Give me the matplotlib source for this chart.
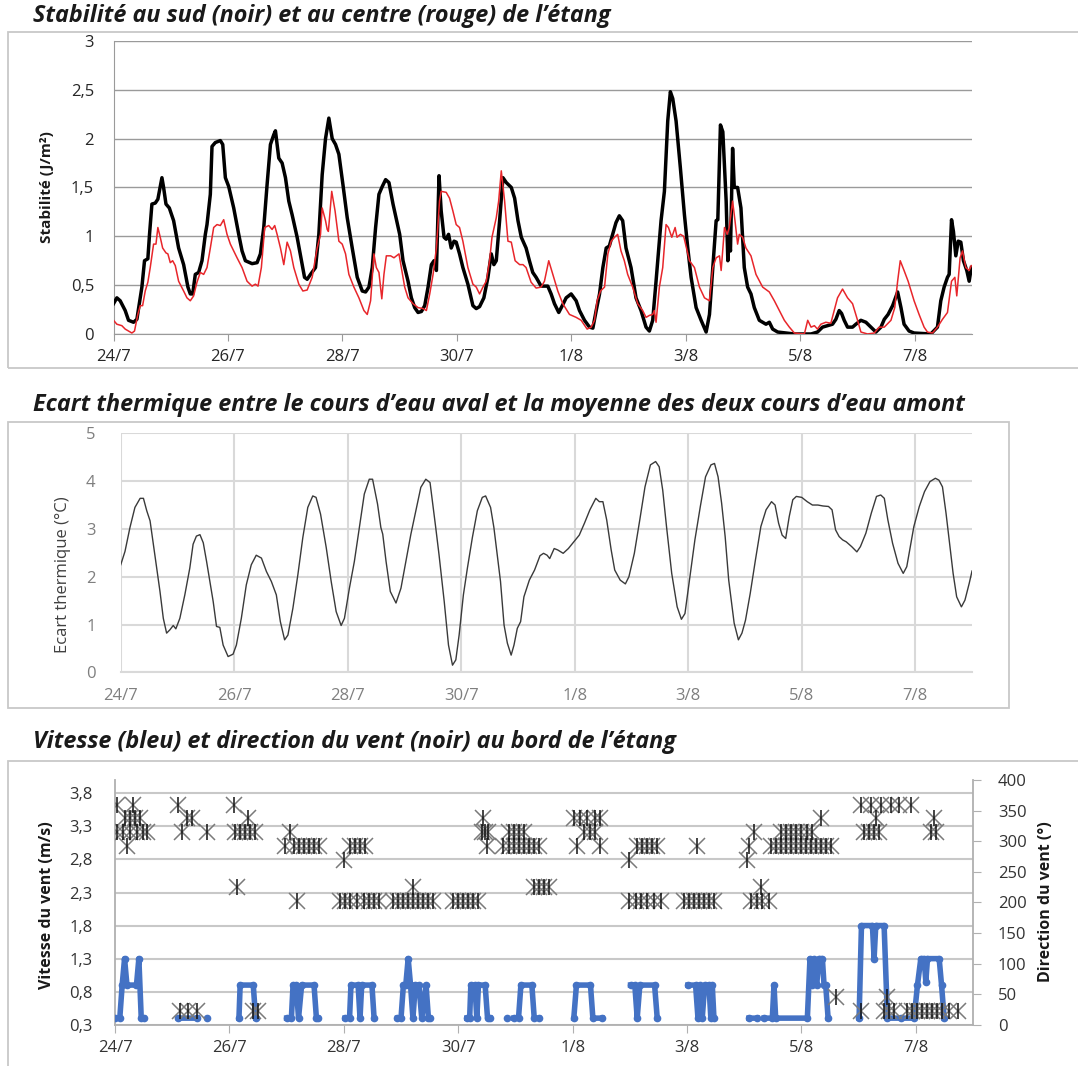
import numpy as np
import matplotlib.pyplot as plt
from matplotlib.patches import Rectangle

nan = np.nan

# x axis: hours since 24/7 00:00
tick_hours = [0, 48, 96, 144, 192, 240, 288, 336]
tick_labels = ["24/7", "26/7", "28/7", "30/7", "1/8", "3/8", "5/8", "7/8"]

# --- panel 1 : stability, south (black) and centre (red) ---
south_h = [0, 1.4, 2.8, 4.9, 6.3, 8.4, 9.8, 11.2, 11.9, 13.0, 14.4, 15.1, 16.1, 17.5, 18.6, 20.3,
           21.0, 22.0, 23.4, 25.2, 27.3, 29.4, 31.2, 32.2, 33.2, 34.3, 35.7, 37.1, 38.5, 39.2,
           40.6, 41.3, 42.7, 44.8, 45.8, 46.9, 48.3, 50.4, 52.5, 53.9, 55.3, 58.1, 60.2, 61.6,
           63.0, 64.4, 65.8, 67.2, 67.9, 69.3, 70.7, 72.1, 73.5, 74.9, 77.0, 79.1, 80.1, 81.2,
           82.6, 84.7, 86.1, 87.5, 88.9, 90.3, 91.7, 93.1, 94.5, 96.2, 98.0, 100.1, 102.2, 104.3,
           105.7, 107.1, 108.5, 109.9, 111.3, 112.7, 114.1, 115.5, 117.2, 120.0, 121.4, 123.5,
           124.9, 126.3, 127.7, 129.1, 130.5, 131.9, 133.3, 134.4, 135.4, 136.5, 137.4, 138.6,
           139.5, 140.5, 141.6, 142.8, 143.7, 145.1, 146.5, 148.6, 150.7, 152.1, 153.5, 155.3,
           157.0, 158.4, 159.5, 160.5, 161.9, 163.3, 164.7, 166.8, 168.2, 169.6, 171.0, 173.0,
           174.4, 175.8, 177.2, 179.3, 182.1, 183.5, 184.9, 186.7, 188.4, 189.8, 191.9, 194.0,
           195.4, 197.5, 199.6, 201.0, 202.4, 203.8, 205.2, 206.6, 207.9, 209.3, 210.7, 212.1,
           213.5, 214.9, 217.0, 219.1, 221.2, 223.3, 224.7, 226.1, 227.5, 229.6, 231.0, 232.4,
           233.5, 234.5, 235.9, 237.7, 239.4, 240.8, 242.2, 244.3, 246.4, 248.5, 249.9, 251.3,
           252.7, 253.4, 254.5, 255.5, 256.9, 257.6, 258.2, 258.7, 259.6, 260.3, 261.7, 263.1,
           264.5, 265.9, 267.3, 268.7, 270.8, 273.6, 275.0, 276.4, 278.5, 285.5, 292.5, 295.2,
           297.3, 299.4, 301.5, 302.9, 304.3, 305.3, 306.4, 307.8, 309.9, 311.3, 313.4, 315.5,
           317.6, 319.7, 321.8, 323.2, 324.8, 326.7, 328.8, 330.2, 331.5, 333.6, 335.7, 342.7,
           345.5, 346.9, 348.3, 349.7, 350.4, 351.4, 352.2, 353.2, 354.2, 355.3, 356.4, 357.8,
           358.8, 359.7]
south_v = [0.31, 0.37, 0.34, 0.24, 0.14, 0.12, 0.15, 0.37, 0.48, 0.75, 0.77, 1.02, 1.33, 1.34, 1.38, 1.60,
           1.50, 1.33, 1.29, 1.16, 0.88, 0.71, 0.48, 0.41, 0.41, 0.61, 0.63, 0.75, 1.02, 1.12,
           1.43, 1.92, 1.96, 1.98, 1.94, 1.60, 1.51, 1.29, 1.02, 0.85, 0.75, 0.72, 0.73, 0.82,
           1.09, 1.53, 1.94, 2.04, 2.08, 1.80, 1.75, 1.60, 1.36, 1.22, 0.99, 0.71, 0.58, 0.56,
           0.61, 0.68, 1.02, 1.63, 2.00, 2.21, 2.00, 1.94, 1.84, 1.53, 1.19, 0.88, 0.58, 0.44,
           0.43, 0.48, 0.68, 1.09, 1.43, 1.51, 1.58, 1.55, 1.33, 1.02, 0.75, 0.54,
           0.37, 0.27, 0.22, 0.23, 0.29, 0.48, 0.71, 0.75, 0.65, 1.62, 1.26, 0.99,
           0.97, 1.02, 0.88, 0.95, 0.94, 0.82, 0.68, 0.51, 0.29, 0.26, 0.28, 0.37,
           0.58, 0.82, 0.71, 0.75, 1.16, 1.60, 1.55, 1.50, 1.39, 1.16, 0.99, 0.88,
           0.75, 0.63, 0.58, 0.49, 0.49, 0.41, 0.31, 0.22, 0.30, 0.37, 0.41, 0.34,
           0.24, 0.14, 0.07, 0.06, 0.24, 0.41, 0.68, 0.88, 0.90, 1.02, 1.14, 1.21,
           1.16, 0.88, 0.68, 0.37, 0.24, 0.07, 0.03, 0.14, 0.54, 1.16, 1.46, 2.18,
           2.48, 2.41, 2.18, 1.70, 1.22, 0.88, 0.58, 0.27, 0.14, 0.02, 0.20, 0.68,
           1.16, 1.17, 2.14, 2.07, 1.36, 0.75, 0.99, 0.85, 1.90, 1.50, 1.50, 1.29,
           0.68, 0.48, 0.41, 0.27, 0.14, 0.10, 0.12, 0.05, 0.02, 0.0, 0.0, 0.02,
           0.07, 0.085, 0.10, 0.15, 0.24, 0.21, 0.14, 0.07, 0.07, 0.10, 0.14, 0.12,
           0.07, 0.02, 0.07, 0.15, 0.20, 0.29, 0.43, 0.27, 0.10, 0.03, 0.01, 0.0,
           0.07, 0.34, 0.48, 0.58, 0.61, 1.17, 1.05, 0.80, 0.95, 0.94, 0.75, 0.65,
           0.54, 0.68]

centre_h = [0, 1.4, 3.5, 4.9, 7.7, 8.8, 10.2, 11.2, 12.2, 13.3, 14.4, 15.4, 16.8, 17.8, 18.6, 19.6,
            20.6, 22.0, 22.8, 23.8, 24.8, 25.9, 27.3, 29.4, 30.8, 32.2, 33.6, 35.0, 36.4, 37.8,
            39.2, 40.6, 42.0, 43.4, 44.8, 46.2, 47.6, 49.0, 50.4, 51.8, 53.9, 56.0, 58.1, 59.5,
            60.6, 62.0, 63.4, 65.1, 66.5, 67.6, 68.6, 70.0, 71.4, 72.8, 74.2, 75.6, 77.7, 79.4,
            81.2, 83.3, 85.4, 86.8, 87.5, 88.9, 89.6, 90.1, 91.5, 92.9, 94.5, 95.9, 97.3, 98.7,
            100.8, 102.9, 105.0, 106.4, 107.8, 109.2, 110.2, 111.3, 112.5, 113.4, 114.4, 116.2,
            117.6, 119.7, 122.1, 123.5, 125.6, 127.7, 129.8, 131.2, 132.6, 134.0, 135.4, 136.7,
            137.4, 139.5, 140.9, 142.3, 143.7, 145.1, 146.5, 148.6, 150.7, 152.1, 153.5, 154.9,
            156.3, 157.7, 158.7, 160.5, 161.5, 162.6, 164.0, 165.4, 166.8, 168.4, 170.3, 171.7,
            173.0, 175.1, 177.2, 179.3, 180.7, 182.5, 184.2, 186.3, 188.4, 191.2, 194.0, 196.1,
            198.6, 200.3, 201.7, 202.8, 204.2, 205.9, 207.3, 208.7, 210.1, 211.4, 212.8, 214.2,
            215.6, 217.7, 219.8, 221.9, 223.3, 224.7, 226.1, 226.8, 227.5, 228.9, 230.3, 231.7,
            232.7, 234.1, 235.5, 236.3, 237.7, 239.1, 241.5, 243.6, 245.7, 247.8, 249.9, 251.3,
            252.7, 254.1, 254.8, 256.2, 257.3, 258.2, 259.6, 260.6, 261.7, 262.4, 263.8, 265.2,
            267.3, 269.4, 272.2, 275.0, 277.1, 279.2, 281.3, 283.4, 285.5, 289.7, 291.1, 292.5,
            293.9, 295.2, 296.6, 298.7, 300.8, 303.6, 305.7, 307.8, 309.9, 312.0, 313.4, 316.2,
            319.0, 321.1, 323.2, 326.0, 327.6, 328.8, 329.9, 331.5, 333.2, 335.7, 337.8, 339.9,
            341.3, 343.4, 345.5, 347.6, 349.7, 351.4, 352.8, 353.6, 355.0, 356.0, 357.4, 358.8,
            359.7]
centre_v = [0.14, 0.10, 0.085, 0.05, 0.01, 0.03, 0.20, 0.29, 0.29, 0.44, 0.53, 0.68, 0.92, 0.92, 1.09, 0.99,
            0.88, 0.83, 0.82, 0.73, 0.75, 0.70, 0.54, 0.44, 0.37, 0.34, 0.39, 0.53, 0.63, 0.61,
            0.68, 0.88, 1.09, 1.12, 1.11, 1.17, 1.02, 0.92, 0.85, 0.78, 0.68, 0.54, 0.49, 0.51,
            0.49, 0.68, 1.09, 1.11, 1.07, 1.11, 1.02, 0.88, 0.71, 0.94, 0.85, 0.68, 0.51, 0.44,
            0.45, 0.58, 0.88, 1.02, 1.29, 1.16, 1.07, 1.05, 1.46, 1.26, 0.95, 0.92, 0.82, 0.61,
            0.48, 0.37, 0.24, 0.20, 0.34, 0.82, 0.68, 0.63, 0.36, 0.61, 0.80, 0.80,
            0.78, 0.82, 0.48, 0.37, 0.31, 0.27, 0.26, 0.24, 0.41, 0.61, 0.88, 1.36,
            1.46, 1.45, 1.39, 1.26, 1.12, 1.09, 0.95, 0.68, 0.51, 0.48, 0.41, 0.48,
            0.54, 0.75, 0.99, 1.19, 1.36, 1.67, 1.36, 0.95, 0.94, 0.75, 0.71, 0.71,
            0.68, 0.53, 0.47, 0.48, 0.54, 0.75, 0.61, 0.44, 0.31, 0.20, 0.17, 0.14,
            0.05, 0.07, 0.14, 0.34, 0.44, 0.48, 0.82, 0.95, 0.99, 1.02, 0.85, 0.75,
            0.61, 0.48, 0.31, 0.24, 0.17, 0.19, 0.20, 0.24, 0.12, 0.48, 0.68, 1.12,
            1.09, 0.99, 1.09, 0.99, 1.02, 1.00, 0.75, 0.68, 0.48, 0.37, 0.34, 0.68,
            0.78, 0.80, 0.65, 1.09, 1.02, 1.09, 1.36, 1.16, 0.92, 1.02, 0.99, 0.88,
            0.80, 0.61, 0.48, 0.43, 0.34, 0.24, 0.14, 0.07, 0.01, 0.0, 0.14, 0.07,
            0.085, 0.05, 0.10, 0.12, 0.11, 0.37, 0.46, 0.37, 0.31, 0.14, 0.02, 0.0,
            0.01, 0.07, 0.07, 0.14, 0.27, 0.54, 0.75, 0.65, 0.54, 0.34, 0.20, 0.07,
            0.02, 0.01, 0.07, 0.15, 0.22, 0.54, 0.58, 0.39, 0.78, 0.85, 0.68, 0.65,
            0.70]

# --- panel 2 : thermal difference downstream - upstream mean ---
ecart_h = [0, 1.8, 3.9, 6.0, 8.2, 9.6, 11.0, 12.4, 13.8, 15.2, 16.6, 18.0, 19.4, 20.8, 22.2, 23.3,
           25.0, 27.1, 29.2, 30.6, 32.0, 33.5, 34.9, 36.3, 37.7, 39.1, 40.5, 41.9, 43.3, 45.4,
           47.5, 48.9, 51.0, 53.1, 55.2, 57.3, 59.5, 61.6, 63.7, 65.8, 67.5, 69.3, 70.7, 72.8,
           74.9, 77.0, 79.1, 81.2, 82.6, 84.5, 86.9, 89.0, 91.1, 93.2, 94.6, 96.7, 98.8, 100.9,
           103.0, 105.1, 106.5, 108.6, 110.0, 110.8, 112.2, 114.0, 116.4, 118.5, 120.6, 122.7,
           124.8, 126.9, 129.0, 130.8, 133.2, 134.6, 136.8, 138.6, 140.3, 141.7, 143.1, 144.9,
           146.6, 148.7, 150.8, 152.9, 154.3, 156.4, 157.8, 159.2, 160.6, 162.1, 163.5, 165.1,
           166.3, 167.7, 169.1, 170.5, 172.8, 175.0, 177.3, 178.8, 180.3, 181.4, 183.3, 184.8,
           187.1, 189.3, 191.6, 193.9, 196.1, 198.4, 200.9, 202.4, 203.9, 205.5, 207.4, 208.9,
           211.2, 213.4, 214.9, 217.2, 219.5, 221.7, 224.0, 226.2, 227.7, 229.2, 230.8, 233.0,
           235.3, 237.1, 238.6, 240.5, 242.8, 245.1, 247.3, 249.6, 251.1, 252.6, 254.1, 255.6,
           257.1, 259.4, 261.2, 262.7, 264.2, 266.2, 268.4, 270.7, 272.9, 275.2, 276.7, 278.2,
           279.7, 281.2, 282.7, 284.2, 285.7, 288.0, 290.3, 292.5, 294.8, 297.0, 299.3, 300.8,
           302.3, 303.8, 305.3, 306.8, 309.1, 311.3, 312.8, 315.1, 317.4, 319.6, 321.4, 322.9,
           324.4, 326.4, 328.7, 330.9, 332.4, 333.9, 335.4, 337.7, 339.9, 342.2, 344.5, 346.0,
           347.5, 349.0, 350.5, 352.0, 353.5, 355.5, 357.0, 358.8, 360.0]
ecart_v = [2.25, 2.53, 3.03, 3.45, 3.64, 3.64, 3.38, 3.17, 2.68, 2.18, 1.69, 1.13, 0.82, 0.89, 0.98, 0.91,
           1.13, 1.62, 2.18, 2.68, 2.85, 2.88, 2.71, 2.32, 1.90, 1.48, 0.96, 0.94, 0.57, 0.33,
           0.38, 0.57, 1.13, 1.83, 2.25, 2.45, 2.39, 2.11, 1.90, 1.62, 1.06, 0.68, 0.78, 1.34,
           2.04, 2.82, 3.45, 3.69, 3.66, 3.31, 2.61, 1.90, 1.27, 0.98, 1.13, 1.76, 2.32, 3.03,
           3.73, 4.04, 4.04, 3.52, 3.03, 2.89, 2.32, 1.69, 1.45, 1.76, 2.32, 2.89,
           3.38, 3.87, 4.04, 3.97, 3.03, 2.46, 1.48, 0.57, 0.15, 0.26, 0.78, 1.62,
           2.18, 2.82, 3.38, 3.66, 3.69, 3.45, 3.03, 2.46, 1.90, 0.99, 0.61, 0.36,
           0.57, 0.92, 1.06, 1.58, 1.93, 2.14, 2.44, 2.49, 2.45, 2.38, 2.59, 2.56,
           2.49, 2.59, 2.73, 2.87, 3.12, 3.40, 3.64, 3.57, 3.57, 3.19, 2.56, 2.14,
           1.93, 1.85, 2.00, 2.49, 3.19, 3.88, 4.34, 4.41, 4.30, 3.81, 3.05, 2.07,
           1.37, 1.11, 1.23, 1.93, 2.77, 3.47, 4.09, 4.34, 4.37, 4.09, 3.54, 2.84,
           1.93, 1.03, 0.68, 0.82, 1.09, 1.65, 2.35, 3.05, 3.40, 3.57, 3.50, 3.12,
           2.87, 2.80, 3.26, 3.61, 3.68, 3.66, 3.57, 3.50, 3.50, 3.48, 3.47, 3.40,
           2.98, 2.84, 2.77, 2.73, 2.63, 2.52, 2.63, 2.91, 3.33, 3.68, 3.71, 3.64,
           3.19, 2.70, 2.28, 2.07, 2.21, 2.63, 3.05, 3.47, 3.78, 3.99, 4.06, 4.02,
           3.88, 3.33, 2.70, 2.07, 1.58, 1.37, 1.51, 1.86, 2.12]

# --- panel 3 : wind speed (blue, m/s) and direction (black, degrees) ---
wind_h = [0, 2, 3, 4, 5, 9, 10, 11, 12, nan,
          26.6, 34.5, nan, 38.5, nan,
          52, 52.5, 58, 59, nan,
          72, 74, 74.7, 76, 77, 78.3, 83.5, 84.5, 85, nan,
          96.5, 98.4, 99, 102, 102.8, 103.5, 107.8, 108.7, nan,
          118.5, 120, 121, 122, 123, 124, 125, 126, 127.5, 128.7, 130.5, 131.5, 132, nan,
          147.6, 148.8, 149.3, 151, 151.8, 152.5, 155.3, 156.3, 157.4, nan,
          164.5, nan,
          167.2, 169.3, 170.3, 174.9, 175.9, 177.8, nan,
          192.5, 193.6, 199.5, 200.5, 204.4, nan,
          216.3, 218.1, 219.1, 220.2, 226.4, 227.5, nan,
          240.4, 243.6, 244.6, 245.4, 246.4, 247.4, 249.2, 250.0, 250.6, 251.3, nan,
          266, 269.5, nan,
          272.3, 275.8, 276.5, 277.2, 290.5, 291.6, 292.6, 293.3, 294.4, 295.4, 296.8, 297.5,
          298.2, 299.2, nan,
          312.2, 313.2, 317.8, 318.5, 319.2, 322.7, 324.1, 329.7, 335.3, 336.7, 338.1, 339.5,
          340.2, 340.9, 345.8, 346.8, 347.9]
wind_v = [0.4, 0.4, 0.9, 1.3, 0.9, 0.9, 1.3, 0.4, 0.4, nan,
          0.4, 0.4, nan, 0.4, nan,
          0.4, 0.9, 0.9, 0.4, nan,
          0.4, 0.4, 0.9, 0.9, 0.4, 0.9, 0.9, 0.4, 0.4, nan,
          0.4, 0.4, 0.9, 0.9, 0.4, 0.9, 0.9, 0.4, nan,
          0.4, 0.4, 0.9, 0.9, 1.3, 0.9, 0.4, 0.9, 0.9, 0.4, 0.9, 0.4, 0.4, nan,
          0.4, 0.4, 0.9, 0.9, 0.4, 0.9, 0.9, 0.4, 0.4, nan,
          0.4, nan,
          0.4, 0.4, 0.9, 0.9, 0.4, 0.4, nan,
          0.4, 0.9, 0.9, 0.4, 0.4, nan,
          0.9, 0.9, 0.4, 0.9, 0.9, 0.4, nan,
          0.9, 0.9, 0.4, 0.9, 0.4, 0.9, 0.9, 0.4, 0.9, 0.4, nan,
          0.4, 0.4, nan,
          0.4, 0.4, 0.9, 0.4, 0.4, 1.3, 0.9, 1.3, 0.9, 1.3, 1.3, 0.9,
          0.9, 0.4, nan,
          0.4, 1.8, 1.8, 1.3, 1.8, 1.8, 0.4, 0.4, 0.4, 0.9, 1.3, 1.3,
          0.95, 1.3, 1.3, 0.9, 0.4]

dir_h = [0.7, 7.7, 26.6, 50.0, 312.9, 317.1, 321.3, 325.5, 329.0, 333.9,
         4.2, 6.3, 8.4, 10.5, 30.1, 32.2, 56.0, 154.5, 192.5, 195.3, 198.1, 201.6, 203.7, 296.1,
         319.2, 343.7,
         0.7, 3.5, 6.3, 9.1, 11.9, 13.3, 28.0, 38.5, 50.4, 52.5, 54.6, 56.7, 58.8, 73.5, 153.9,
         155.3, 156.7, 165.1, 167.2, 169.3, 171.4, 196.7, 199.5, 201.6, 268.1, 279.3, 281.4,
         283.5, 285.6, 287.7, 290.5, 292.6, 314.3, 316.4, 318.5, 320.6, 342.3, 344.4,
         4.9, 71.4, 74.9, 77.0, 79.1, 81.2, 83.3, 85.4, 98.7, 100.8, 102.9, 105.0, 156.0, 163.0,
         165.1, 167.2, 169.3, 171.4, 173.5, 175.6, 177.7, 193.9, 203.7, 219.1, 221.2, 223.3,
         225.4, 227.5, 244.3, 266.0, 275.1, 277.2, 279.3, 281.4, 283.5, 285.6, 287.7, 289.8,
         291.9, 294.0, 296.1, 298.2, 300.3,
         95.9, 215.6, 265.3,
         51.1, 125.2, 176.0, 178.0, 180.0, 182.0, 270.9,
         76.3, 94.5, 96.6, 98.7, 101.5, 104.3, 106.4, 108.5, 110.6, 116.8, 118.9, 121.0, 123.1,
         125.2, 127.3, 129.4, 131.5, 133.6, 142.0, 144.1, 146.2, 148.3, 150.4, 152.5, 215.6,
         218.4, 220.5, 223.3, 226.1, 228.9, 238.7, 240.8, 242.9, 245.0, 247.1, 249.2, 251.3,
         266.7, 269.5, 271.6, 274.4,
         302.4, 324.1,
         27.3, 30.8, 34.3, 58.1, 60.2, 312.9, 322.7, 324.8, 326.9, 332.5, 334.6, 336.7, 338.8,
         340.9, 343.0, 345.1, 347.2, 350.0, 353.5]
dir_v = ([360] * 10 + [337.5] * 16 + [315] * 38 + [292.5] * 43 + [270] * 3 + [225] * 7
         + [202.5] * 41 + [45] * 2 + [22.5] * 19)

# ---------------------------------------------------------------
plt.rcParams["font.family"] = ["Open Sans", "DejaVu Sans"]
fig = plt.figure(figsize=(10.78, 10.66), dpi=100)

# chart frames
for r in [(0.0074, 0.6548, 1.0, 0.3152), (0.0074, 0.3358, 0.9286, 0.2683), (0.0074, -0.01, 1.0, 0.2961)]:
    fig.patches.append(Rectangle(r[:2], r[2], r[3], transform=fig.transFigure,
                                 fill=False, edgecolor="#c8c8c8", linewidth=1.3))

title_kw = dict(fontsize=16.8, fontweight="bold", fontstyle="italic", color="#1a1a1a", va="center")
fig.text(0.031, 1 - 16 / 1066, "Stabilité au sud (noir) et au centre (rouge) de l’étang", **title_kw)
fig.text(0.031, 1 - 405 / 1066, "Ecart thermique entre le cours d’eau aval et la moyenne des deux cours d’eau amont", **title_kw)
fig.text(0.031, 1 - 742 / 1066, "Vitesse (bleu) et direction du vent (noir) au bord de l’étang", **title_kw)

tick_fs = 12

# panel 1
ax1 = fig.add_axes([0.1053, 0.6867, 0.7964, 0.2749])
ax1.plot(south_h, south_v, color="black", lw=2.5, solid_joinstyle="round", zorder=3)
ax1.plot(centre_h, centre_v, color="#e8262b", lw=1.1, zorder=4)
ax1.set_xlim(0, 360)
ax1.set_ylim(0, 3)
ax1.set_yticks([0, 0.5, 1, 1.5, 2, 2.5, 3])
ax1.set_yticklabels(["0", "0,5", "1", "1,5", "2", "2,5", "3"])
ax1.set_xticks(tick_hours)
ax1.set_xticklabels(tick_labels)
ax1.grid(axis="y", color="#9a9a9a", lw=1.0)
ax1.set_axisbelow(True)
for s in ["top", "right"]:
    ax1.spines[s].set_visible(False)
for s in ["left", "bottom"]:
    ax1.spines[s].set_color("#9a9a9a")
ax1.tick_params(axis="y", length=0, pad=14, labelsize=tick_fs, labelcolor="#262626")
ax1.tick_params(axis="x", length=5, color="#9a9a9a", pad=6, labelsize=tick_fs, labelcolor="#262626")
fig.text(47 / 1078, 1 - 187 / 1066, "Stabilité (J/m²)", rotation=90, ha="center", va="center",
         fontsize=11, fontweight="bold", color="#1a1a1a")

# panel 2
ax2 = fig.add_axes([0.1120, 0.3693, 0.7897, 0.2242])
ax2.plot(ecart_h, ecart_v, color="#3a3a3a", lw=1.0)
ax2.set_xlim(0, 360)
ax2.set_ylim(0, 5)
ax2.set_yticks([0, 1, 2, 3, 4, 5])
ax2.set_xticks(tick_hours)
ax2.set_xticklabels(tick_labels)
ax2.grid(True, color="#d9d9d9", lw=1.5)
ax2.set_axisbelow(True)
for s in ["top", "right", "left"]:
    ax2.spines[s].set_visible(False)
ax2.spines["bottom"].set_color("#d9d9d9")
ax2.spines["bottom"].set_linewidth(1.5)
ax2.tick_params(length=0, labelsize=tick_fs, labelcolor="#7f7f7f")
ax2.tick_params(axis="y", pad=18)
ax2.tick_params(axis="x", pad=11)
fig.text(63 / 1078, 1 - 575 / 1066, "Ecart thermique (°C)", rotation=90, ha="center", va="center",
         fontsize=12, color="#404040")

# panel 3
ax3 = fig.add_axes([0.1067, 0.0387, 0.7959, 0.2295])
ax3.plot(wind_h, wind_v, color="#4472c4", lw=4, marker="o", ms=4.5, solid_joinstyle="round", zorder=3)
ax3.set_xlim(0, 360)
ax3.set_ylim(0.3, 4.0)
ax3.set_yticks([0.3, 0.8, 1.3, 1.8, 2.3, 2.8, 3.3, 3.8])
ax3.set_yticklabels(["0,3", "0,8", "1,3", "1,8", "2,3", "2,8", "3,3", "3,8"])
ax3.set_xticks(tick_hours)
ax3.set_xticklabels(tick_labels)
ax3.grid(axis="y", color="#c8c8c8", lw=1.5)
ax3.set_axisbelow(True)
ax3.spines["top"].set_visible(False)
ax3.spines["right"].set_visible(False)
for s in ["left", "bottom"]:
    ax3.spines[s].set_color("#b0b0b0")
    ax3.spines[s].set_linewidth(1.3)
ax3.tick_params(axis="y", length=0, pad=16, labelsize=tick_fs, labelcolor="#333333")
ax3.tick_params(axis="x", length=6, color="#b0b0b0", pad=5, labelsize=tick_fs, labelcolor="#333333")

ax3r = ax3.twinx()
ax3r.plot(dir_h, dir_v, ls="none", marker="x", ms=11, mew=1.1, color="#7a7a7a", zorder=5)
ax3r.plot(dir_h, dir_v, ls="none", marker="|", ms=12, mew=1.1, color="#111111", zorder=6)
ax3r.set_ylim(0, 400)
ax3r.set_yticks(range(0, 401, 50))
for s in ["top", "left", "bottom"]:
    ax3r.spines[s].set_visible(False)
ax3r.spines["right"].set_color("#b0b0b0")
ax3r.spines["right"].set_linewidth(1.3)
ax3r.tick_params(axis="y", length=6, color="#b0b0b0", pad=12, labelsize=tick_fs, labelcolor="#333333")

fig.text(47 / 1078, 1 - 905 / 1066, "Vitesse du vent (m/s)", rotation=90, ha="center", va="center",
         fontsize=11.5, fontweight="bold", color="#1a1a1a")
fig.text(1046 / 1078, 1 - 902 / 1066, "Direction du vent (°)", rotation=90, ha="center", va="center",
         fontsize=11.5, fontweight="bold", color="#1a1a1a")

fig.savefig("out.png", dpi=100)
